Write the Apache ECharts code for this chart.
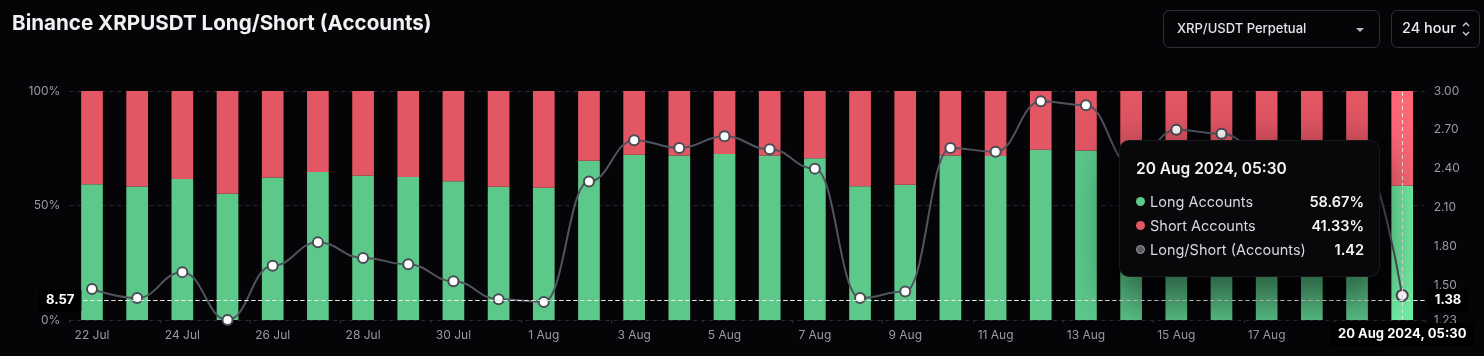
<!DOCTYPE html>
<html><head><meta charset="utf-8">
<script src="https://cdn.jsdelivr.net/npm/echarts@6/dist/echarts.min.js"></script>
<style>html,body{margin:0;padding:0;background:#050508;}#c{width:1484px;height:356px;}</style>
</head><body><div id="c"></div>
<script>
const categories = ['22 Jul','23 Jul','24 Jul','25 Jul','26 Jul','27 Jul','28 Jul','29 Jul','30 Jul','31 Jul',
  '1 Aug','2 Aug','3 Aug','4 Aug','5 Aug','6 Aug','7 Aug','8 Aug','9 Aug','10 Aug',
  '11 Aug','12 Aug','13 Aug','14 Aug','15 Aug','16 Aug','17 Aug','18 Aug','19 Aug','20 Aug'];
const longPct = [59.3,58.3,61.6,55.1,62.2,64.6,63.0,62.4,60.6,58.2,
  57.8,69.5,72.2,71.8,72.5,71.8,70.6,58.4,59.1,71.8,
  71.6,74.3,74.0,70.8,73.0,72.8,71.4,71.2,71.8,58.67];
const shortPct = [40.7,41.7,38.4,44.9,37.8,35.4,37.0,37.6,39.4,41.8,
  42.2,30.5,27.8,28.2,27.5,28.2,29.4,41.6,40.9,28.2,
  28.4,25.7,26.0,29.2,27.0,27.2,28.6,28.8,28.2,41.33];
const ratio = [1.47,1.40,1.60,1.23,1.65,1.83,1.71,1.66,1.53,1.39,
  1.37,2.30,2.62,2.56,2.65,2.55,2.40,1.40,1.45,2.56,
  2.53,2.92,2.89,2.43,2.70,2.67,2.50,2.47,2.55,1.42];
const rightTicks = [1.23,1.50,1.80,2.10,2.40,2.70,3.00];
const seriesNames = ['Long Accounts','Short Accounts','Long/Short (Accounts)'];
const titleText = 'Binance XRPUSDT Long/Short (Accounts)';
const timeSuffix = ' 2024, 05:30';
const hoverIndex = 29;

const FONT = "Inter, 'Noto Sans', sans-serif";
const GREEN = '#5cc98b', RED = '#e35664', LINE = '#4a4c55';
const GREEN_HI = '#66d996', RED_HI = '#ee5e6d';
const chart = echarts.init(document.getElementById('c'));
const ptrLabel = {backgroundColor:'#000', color:'#fff', fontWeight:'bold', fontSize:13, fontFamily:FONT, padding:[5,7], borderRadius:2};
function hi(arr, col){ return arr.map(function(v,i){ return i===hoverIndex ? {value:v, itemStyle:{color:col}} : v; }); }

chart.setOption({
  backgroundColor:'#050508',
  animation:false,
  title:{text:titleText, left:7, top:8, textStyle:{color:'#f2f2f5', fontSize:20.6, fontWeight:700, fontFamily:FONT}},
  grid:{left:69.4, right:59.2, top:91, bottom:36},
  tooltip:{
    trigger:'axis', triggerOn:'none', alwaysShowContent:true,
    position:[1119,140],
    backgroundColor:'#08080b', borderColor:'rgba(255,255,255,0.07)', borderWidth:1, padding:0,
    extraCssText:'border-radius:10px;box-shadow:0 18px 45px 6px rgba(0,0,0,0.55);',
    axisPointer:{type:'cross',
      lineStyle:{color:'#e8e8e8', type:[4,3], width:1},
      crossStyle:{color:'#e8e8e8', type:[4,3], width:1},
      label:ptrLabel},
    formatter:function(ps){
      const cols=[GREEN,RED,'#5a5c64'];
      let h='<div style="width:259px;height:135px;box-sizing:border-box;padding:14px 15px 0 16px;font-family:'+FONT.replace(/"/g,"'")+';">';
      h+='<div style="color:#f3f3f5;font-size:15.5px;font-weight:600;line-height:28px;margin-bottom:6px;">'+ps[0].name+timeSuffix+'</div>';
      ps.forEach(function(p,i){
        const val = typeof p.value==='object' ? p.value.value : p.value;
        const v = i<2 ? val.toFixed(2)+'%' : val.toFixed(2);
        const dot = i==2 ? 'background:#5a5c64;border:1.5px solid #9a9ca4;width:7px;height:7px;' : 'background:'+cols[i]+';width:9px;height:9px;';
        h+='<div style="display:flex;align-items:center;height:24px;font-size:14.5px;">'+
          '<span style="display:inline-block;border-radius:50%;'+dot+'margin-right:5px;"></span>'+
          '<span style="color:#d8d8de;flex:1;">'+p.seriesName+'</span>'+
          '<span style="color:#f5f5f7;font-weight:600;">'+v+'</span></div>';
      });
      return h+'</div>';
    }
  },
  xAxis:{type:'category', data:categories,
    axisLine:{show:false},
    axisTick:{show:true, interval:1, length:3, lineStyle:{color:'#2c2d33'}},
    axisLabel:{interval:1, color:'#9a9aa4', fontSize:12, fontFamily:FONT, margin:9},
    axisPointer:{label:Object.assign({}, ptrLabel, {formatter:function(p){return p.value+timeSuffix;}})}
  },
  yAxis:[
    {type:'value', min:0, max:100, interval:50, position:'left',
      axisLabel:{formatter:'{value}%', color:'#9a9aa4', fontSize:12, fontFamily:FONT, margin:9},
      splitLine:{lineStyle:{color:'#2a2b31', type:[4,4]}},
      axisLine:{show:false}, axisTick:{show:false},
      axisPointer:{label:Object.assign({}, ptrLabel, {margin:-12, formatter:function(p){return p.value.toFixed(2);}})}
    },
    {type:'value', min:1.23, max:3.0, position:'right',
      axisLabel:{customValues:rightTicks, formatter:function(v){return v.toFixed(2);}, color:'#9a9aa4', fontSize:12, fontFamily:FONT, margin:9},
      splitLine:{show:false}, axisLine:{show:false}, axisTick:{show:false},
      axisPointer:{label:Object.assign({}, ptrLabel, {formatter:function(p){return p.value.toFixed(2);}})}
    }
  ],
  series:[
    {name:seriesNames[0], type:'bar', stack:'ls', data:hi(longPct, GREEN_HI), barWidth:'48%', itemStyle:{color:GREEN}},
    {name:seriesNames[1], type:'bar', stack:'ls', data:hi(shortPct, RED_HI), barWidth:'48%', itemStyle:{color:RED}},
    {name:seriesNames[2], type:'line', yAxisIndex:1, data:ratio, smooth:0.45, smoothMonotone:'x', z:5,
      lineStyle:{color:LINE, width:2}, symbol:'circle', symbolSize:10,
      itemStyle:{color:'#ffffff', borderColor:LINE, borderWidth:2}}
  ],
  graphic:[
    {type:'rect', shape:{x:1163.5, y:10.5, width:216, height:37, r:6}, style:{fill:'none', stroke:'#2f3037', lineWidth:1}},
    {type:'text', x:1177, y:29, style:{text:'XRP/USDT Perpetual', fill:'#e4e4e8', font:'500 13px '+FONT, verticalAlign:'middle'}},
    {type:'polygon', shape:{points:[[1356,28],[1364,28],[1360,32]]}, style:{fill:'#b8b8c0'}},
    {type:'rect', shape:{x:1391.5, y:10.5, width:88, height:37, r:6}, style:{fill:'none', stroke:'#2f3037', lineWidth:1}},
    {type:'text', x:1402, y:29, style:{text:'24 hour', fill:'#ececf0', font:'500 14.5px '+FONT, verticalAlign:'middle'}},
    {type:'polyline', shape:{points:[[1463,26],[1466,23],[1469,26]]}, style:{stroke:'#d0d0d6', lineWidth:1.3, fill:'none'}},
    {type:'polyline', shape:{points:[[1463,32],[1466,35],[1469,32]]}, style:{stroke:'#d0d0d6', lineWidth:1.3, fill:'none'}}
  ]
});
setTimeout(function(){ chart.dispatchAction({type:'showTip', x:1402, y:300.375}); }, 50);
</script></body></html>
